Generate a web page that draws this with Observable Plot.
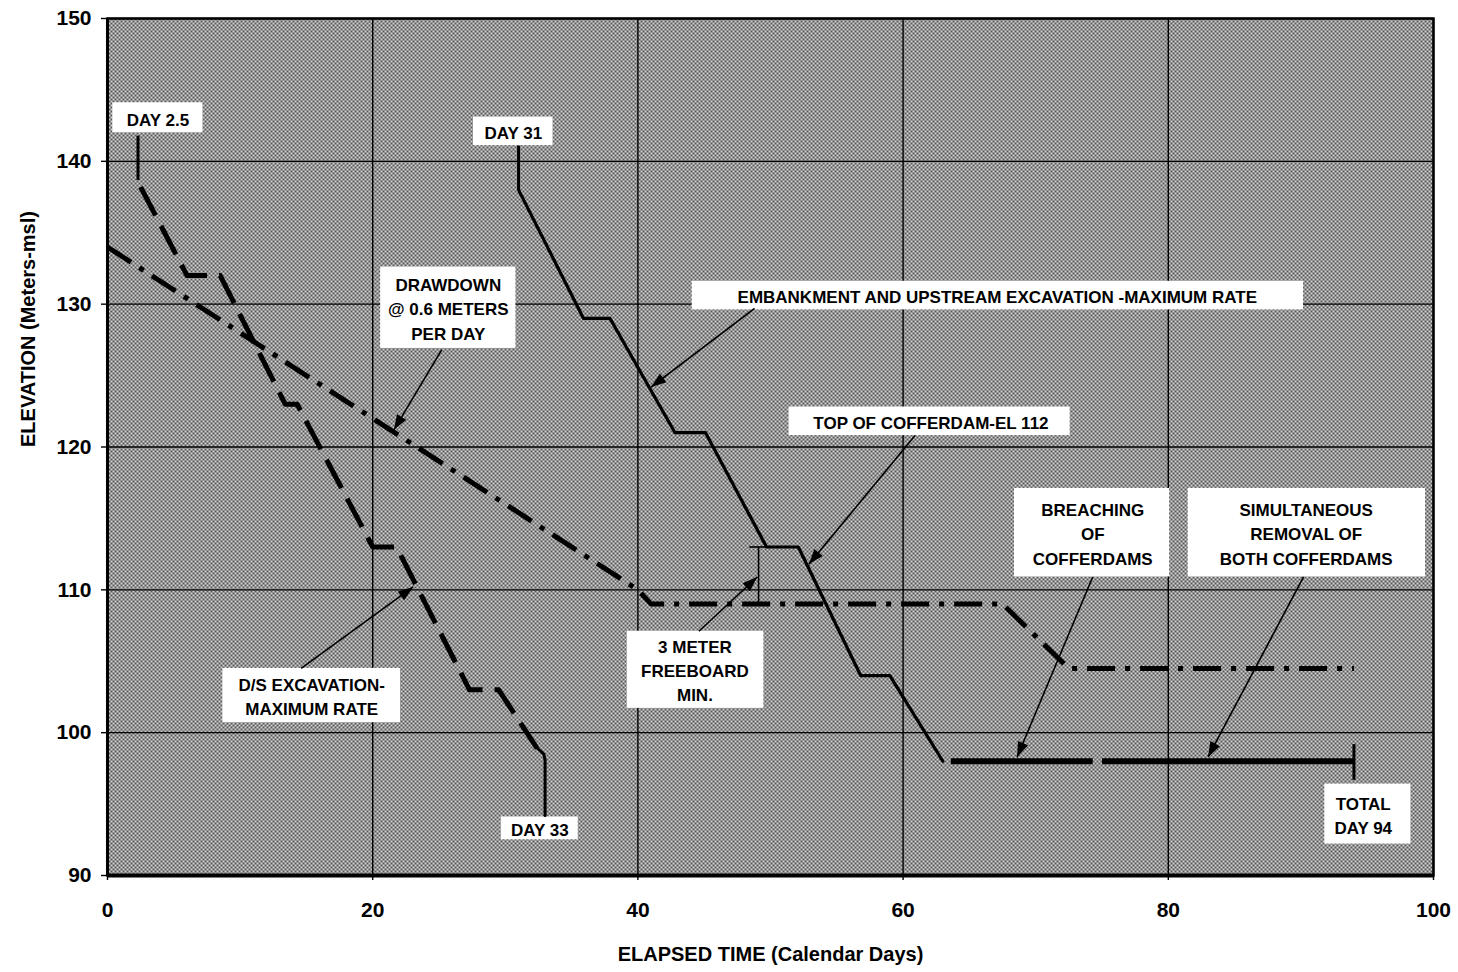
<!DOCTYPE html>
<html>
<head>
<meta charset="utf-8">
<script src="https://cdn.jsdelivr.net/npm/d3@7"></script>
<script src="https://cdn.jsdelivr.net/npm/@observablehq/plot@0.6"></script>
<style>
  html, body { margin: 0; padding: 0; background: #ffffff; }
  #chart { width: 1458px; height: 972px; }
</style>
</head>
<body>
<div id="chart"></div>
<script>
// ---------- data ----------
const xTicks = [0, 20, 40, 60, 80, 100];
const yTicks = [90, 100, 110, 120, 130, 140, 150];

// Drawdown @ 0.6 m/day (dash-dot)
const drawdownDay  = [0, 40, 41, 67.5, 72.5, 94];
const drawdownElev = [134, 110, 109, 109, 104.5, 104.5];

// D/S excavation - maximum rate (dashed)
const dsDay  = [2.5, 6, 8.5, 13.4, 14.3, 20, 21.8, 27.3, 29.5, 32.4];
const dsElev = [138.2, 132, 132, 123, 123, 113, 113, 103, 103, 98.9];

// Embankment and upstream excavation - maximum rate (solid)
const embDay  = [31, 35.9, 37.9, 42.8, 45.1, 49.7, 52.1, 56.8, 59, 63];
const embElev = [138, 129, 129, 121, 121, 113, 113, 104, 104, 98];

// Breaching / removal of cofferdams (thick solid at El. 98)
const removalStart = [63.6, 75];
const removalEnd   = [74.3, 94];
const removalElev  = 98;

// Freeboard bracket (cofferdam top vs. reservoir)
const cofferdamTop = 113;
const freeboardBase = 109;
const freeboardDay = 49.1;

// Day markers: [day, elevation top, elevation bottom]
const markerDay  = [2.3, 31, 94];
const markerTop  = [141.8, 141.1, 99.2];
const markerBot  = [138.7, 138, 96.7];
const day33Hook  = [[32.2, 99.1], [32.9, 98.5], [33, 98.1], [33, 94.2]];

// Annotation labels
const labelText = [
  "DAY 2.5", "DAY 31", "DRAWDOWN\n@ 0.6 METERS\nPER DAY",
  "EMBANKMENT AND UPSTREAM EXCAVATION -MAXIMUM RATE",
  "TOP OF COFFERDAM-EL 112", "BREACHING\nOF\nCOFFERDAMS",
  "SIMULTANEOUS\nREMOVAL OF\nBOTH COFFERDAMS",
  "D/S EXCAVATION-\nMAXIMUM RATE", "3 METER\nFREEBOARD\nMIN.",
  "DAY 33", "TOTAL\nDAY 94"
];
const labelDay  = [3.8, 30.6, 25.7, 67.1, 62.1, 74.3, 90.4, 15.4, 44.3, 32.6, 94.7];
const labelElev = [143.05, 142.1, 129.75, 130.6, 121.8, 114.0, 114.0, 102.6, 104.45, 93.3, 94.3];
const boxX1 = [0.4, 27.6, 20.6, 44.1, 51.4, 68.4, 81.5, 8.7, 39.2, 29.7, 91.8];
const boxX2 = [7.2, 33.6, 30.8, 90.2, 72.6, 80.1, 99.4, 22.1, 49.5, 35.5, 98.3];
const boxY1 = [142.0, 141.1, 126.9, 129.6, 120.8, 110.9, 110.9, 100.7, 101.7, 92.5, 92.2];
const boxY2 = [144.1, 143.1, 132.6, 131.6, 122.8, 117.1, 117.1, 104.5, 107.1, 94.1, 96.4];

// Leader arrows: from (day, elev) to tip (day, elev)
const arrowFromDay  = [25.2, 14.6, 48.8, 60.9, 44.6, 74.3, 90.2];
const arrowFromElev = [126.8, 104.5, 129.7, 120.8, 107.1, 110.9, 110.9];
const arrowToDay    = [21.6, 23.05, 41.0, 52.9, 49.0, 68.6, 83.0];
const arrowToElev   = [121.2, 110.2, 124.2, 111.8, 110.9, 98.3, 98.3];

// ---------- layout ----------
const W = 1458, H = 972;
const mL = 107, mR = 25, mT = 18, mB = 97;
const kx = (W - mL - mR) / 100;   // px per day
const ky = (H - mT - mB) / 60;    // px per metre
const FONT = "'Liberation Sans', Arial, Helvetica, sans-serif";

const pts = (xs, ys) => xs.map((x, i) => ({x, y: ys[i]}));
const drawdown = pts(drawdownDay, drawdownElev);
const ds = pts(dsDay, dsElev);
const emb = pts(embDay, embElev);
const removal = removalStart.map((s, i) => ({x1: s, x2: removalEnd[i], y: removalElev}));
const markers = markerDay.map((d, i) => ({x: d, y1: markerTop[i], y2: markerBot[i]}));
const hook = day33Hook.map(([x, y]) => ({x, y}));
const labels = labelText.map((t, i) => ({t, x: labelDay[i], y: labelElev[i],
  x1: boxX1[i], x2: boxX2[i], y1: boxY1[i], y2: boxY2[i]}));
const arrows = arrowFromDay.map((d, i) => {
  const a = {x1: d, y1: arrowFromElev[i], x2: arrowToDay[i], y2: arrowToElev[i]};
  const dx = (a.x2 - a.x1) * kx, dy = -(a.y2 - a.y1) * ky;
  a.rot = Math.atan2(dx, -dy) * 180 / Math.PI;
  return a;
});
const bracket = [
  {x1: freeboardDay, x2: freeboardDay, y1: freeboardBase, y2: cofferdamTop},
  {x1: freeboardDay - 0.7, x2: freeboardDay + 0.7, y1: cofferdamTop, y2: cofferdamTop},
  {x1: freeboardDay - 0.6, x2: freeboardDay + 0.4, y1: freeboardBase, y2: freeboardBase}
];

// filled triangle arrowhead with the tip at the origin, pointing up
const headSymbol = {
  draw(ctx, size) {
    const s = Math.sqrt(size);
    ctx.moveTo(0, 0);
    ctx.lineTo(-s * 0.36, s);
    ctx.lineTo(s * 0.36, s);
    ctx.closePath();
  }
};

const svg = Plot.plot({
  width: W, height: H,
  marginLeft: mL, marginRight: mR, marginTop: mT, marginBottom: mB,
  style: {fontFamily: FONT, fontWeight: "bold", color: "#000", background: "#fff"},
  x: {domain: [0, 100], ticks: xTicks},
  y: {domain: [90, 150], ticks: yTicks},
  marks: [
    Plot.frame({fill: "url(#halftone)", stroke: "none"}),
    Plot.gridX(xTicks, {stroke: "#000", strokeOpacity: 1, strokeWidth: 1.4}),
    Plot.gridY(yTicks, {stroke: "#000", strokeOpacity: 1, strokeWidth: 1.4}),
    Plot.axisX(xTicks, {tickSize: 5, tickPadding: 22, fontSize: 21, fontWeight: "bold", label: null, strokeWidth: 1.4}),
    Plot.axisY(yTicks, {tickSize: 6, tickPadding: 10, fontSize: 21, fontWeight: "bold", label: null, strokeWidth: 1.4}),
    Plot.frame({stroke: "#000", strokeWidth: 2.5}),
    Plot.ruleY([90], {stroke: "#000", strokeWidth: 4}),
    Plot.ruleX([0], {stroke: "#000", strokeWidth: 3}),

    // white label boxes
    Plot.rect(labels, {x1: "x1", x2: "x2", y1: "y1", y2: "y2", fill: "#fff"}),

    // series
    Plot.line(drawdown, {x: "x", y: "y", stroke: "#000", strokeWidth: 5,
      strokeDasharray: "28,10,5,10", strokeLinecap: "butt", strokeLinejoin: "round"}),
    Plot.line(ds, {x: "x", y: "y", stroke: "#000", strokeWidth: 5,
      strokeDasharray: "32,12", strokeLinecap: "butt", strokeLinejoin: "round"}),
    Plot.line(emb, {x: "x", y: "y", stroke: "#000", strokeWidth: 3.2, strokeLinejoin: "round"}),
    Plot.link(removal, {x1: "x1", x2: "x2", y1: "y", y2: "y", stroke: "#000", strokeWidth: 6}),

    // day markers
    Plot.link(markers, {x1: "x", x2: "x", y1: "y1", y2: "y2", stroke: "#000", strokeWidth: 3}),
    Plot.line(hook, {x: "x", y: "y", stroke: "#000", strokeWidth: 3, strokeLinejoin: "round"}),

    // freeboard bracket
    Plot.link(bracket, {x1: "x1", x2: "x2", y1: "y1", y2: "y2", stroke: "#000", strokeWidth: 1.6}),

    // leader arrows
    Plot.link(arrows, {x1: "x1", y1: "y1", x2: "x2", y2: "y2", stroke: "#000", strokeWidth: 1.6}),
    Plot.dot(arrows, {x: "x2", y: "y2", rotate: "rot", symbol: headSymbol, r: 8.5, fill: "#000", stroke: "none"}),

    // label texts
    Plot.text(labels, {x: "x", y: "y", text: "t", fontSize: 17, fontWeight: "bold",
      lineHeight: 1.42, fill: "#000", textAnchor: "middle"}),

    // axis titles
    Plot.text(["ELAPSED TIME (Calendar Days)"], {frameAnchor: "bottom", dy: 85, fontSize: 20,
      fontWeight: "bold", fill: "#000"}),
    Plot.text(["ELEVATION (Meters-msl)"], {frameAnchor: "left", dx: -79, dy: 0, rotate: -90,
      fontSize: 20, fontWeight: "bold", fill: "#000"})
  ]
});

// halftone background pattern
const NS = "http://www.w3.org/2000/svg";
const defs = document.createElementNS(NS, "defs");
const pat = document.createElementNS(NS, "pattern");
pat.setAttribute("id", "halftone");
pat.setAttribute("width", "4");
pat.setAttribute("height", "4");
pat.setAttribute("patternUnits", "userSpaceOnUse");
const bg = document.createElementNS(NS, "rect");
bg.setAttribute("width", "4"); bg.setAttribute("height", "4"); bg.setAttribute("fill", "#d2d2d2");
pat.appendChild(bg);
for (const [px, py] of [[0, 0], [2, 2]]) {
  const r = document.createElementNS(NS, "rect");
  r.setAttribute("x", px); r.setAttribute("y", py);
  r.setAttribute("width", "2"); r.setAttribute("height", "2");
  r.setAttribute("fill", "#575757");
  pat.appendChild(r);
}
defs.appendChild(pat);
svg.insertBefore(defs, svg.firstChild);

document.getElementById("chart").appendChild(svg);
</script>
</body>
</html>
